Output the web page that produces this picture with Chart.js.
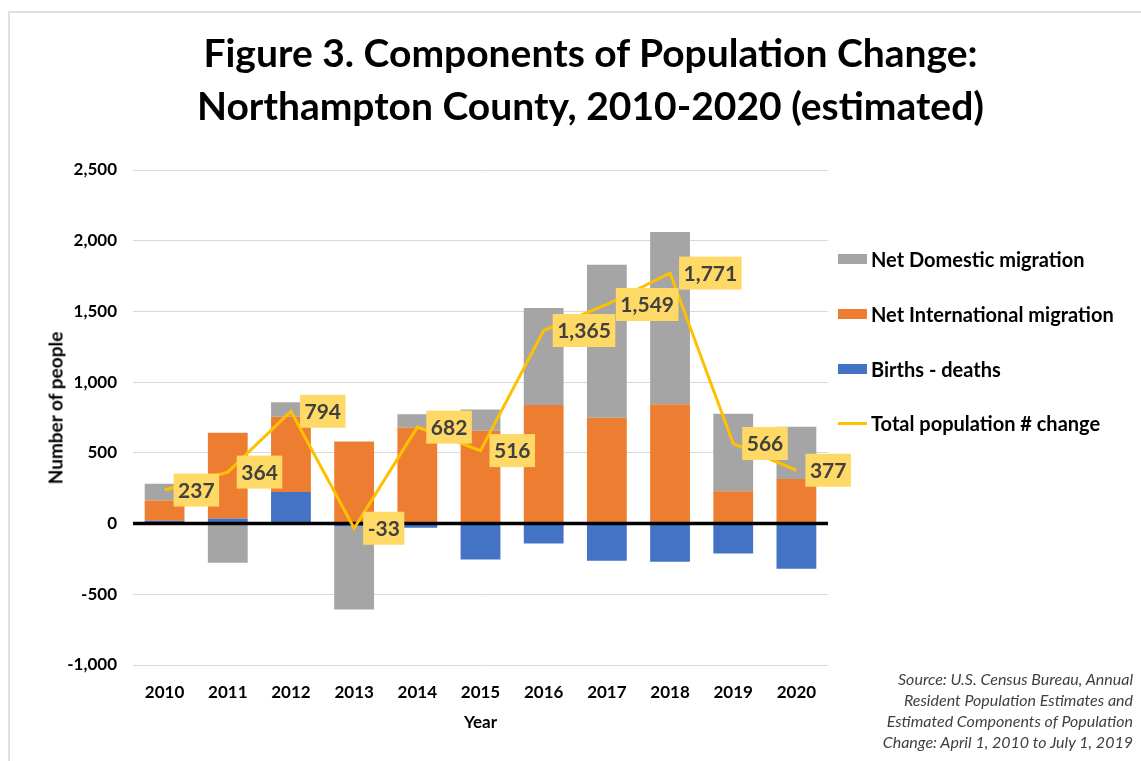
<!DOCTYPE html>
<html>
<head>
<meta charset="utf-8">
<title>Components of Population Change</title>
<script src="https://cdn.jsdelivr.net/npm/chart.js@4.4.1/dist/chart.umd.min.js"></script>
<style>
    body { margin: 0; background: #fff; font-family: Lato, "Open Sans", sans-serif; }
    #wrap { position: relative; width: 1141px; height: 761px; overflow: hidden; }
    #frame { position: absolute; left: 8px; top: 11px; width: 1300px; height: 900px; border-left: 2px solid #e0e0e0; border-top: 2px solid #e0e0e0; }
    #chart { position: absolute; left: 0; top: 0; }
    #title { position: absolute; left: 20px; top: 26px; width: 1141px; text-align: center; font-weight: bold; font-size: 39px; line-height: 53px; color: #000; }
    #legend { position: absolute; left: 838px; top: 232px; }
    .item { height: 54.7px; display: flex; align-items: center; font-weight: bold; font-size: 20px; color: #000; white-space: nowrap; }
    .swatch { width: 29px; height: 10px; margin-right: 4px; }
    .swatch.line { height: 3px; }
    #ytitle { position: absolute; left: 55px; top: 408px; transform: translate(-50%, -50%) rotate(-90deg); font-weight: bold; font-size: 19px; color: #000; white-space: nowrap; }
    #source { position: absolute; right: 8px; top: 668px; text-align: right; font-style: italic; font-size: 16px; line-height: 21px; color: #404040; }
</style>
</head>
<body>
<div id="wrap">
    <div id="frame"></div>
    <canvas id="chart" width="1141" height="761"></canvas>
    <div id="title">Figure 3. Components of Population Change:<br>Northampton County, 2010-2020 (estimated)</div>
    <div id="ytitle">Number of people</div>
    <div id="legend"></div>
    <div id="source">Source: U.S. Census Bureau, Annual<br>Resident Population Estimates and<br>Estimated Components of Population<br>Change: April 1, 2010 to July 1, 2019</div>
</div>
<script>
// valores
const years = ['2010', '2011', '2012', '2013', '2014', '2015', '2016', '2017', '2018', '2019', '2020'];
const birthsMinusDeaths = [20, 35, 223, -20, -30, -254, -141, -263, -270, -212, -319];
const internationalMigration = [143, 608, 533, 580, 679, 656, 839, 749, 844, 228, 315];
const domesticMigration = [118, -277, 101, -587, 94, 150, 686, 1081, 1217, 548, 369];
const totalChange = [237, 364, 794, -33, 682, 516, 1365, 1549, 1771, 566, 377];
const yTicks = [-1000, -500, 0, 500, 1000, 1500, 2000, 2500];

const axisFont = { family: 'Lato', size: 17, weight: 'bold' };

// linha preta no zero, por cima das barras e por baixo da linha amarela
const zeroLinePlugin = {
    id: 'zeroLine',
    beforeDatasetDraw(chart, args) {
        if (args.meta.type !== 'line') return;
        const { ctx, chartArea, scales } = chart;
        const y = scales.y.getPixelForValue(0);
        ctx.save();
        ctx.strokeStyle = '#000';
        ctx.lineWidth = 3.5;
        ctx.beginPath();
        ctx.moveTo(chartArea.left, y);
        ctx.lineTo(chartArea.right, y);
        ctx.stroke();
        ctx.restore();
    }
};

// caixas amarelas com os totais
const labelBoxPlugin = {
    id: 'labelBoxes',
    afterDatasetsDraw(chart) {
        const { ctx } = chart;
        chart.data.datasets.forEach((ds, i) => {
            if (ds.type !== 'line') return;
            const meta = chart.getDatasetMeta(i);
            ctx.save();
            ctx.font = 'bold 21px Lato';
            ctx.textBaseline = 'middle';
            ctx.textAlign = 'left';
            meta.data.forEach((pt, j) => {
                const text = ds.data[j].toLocaleString('en-US');
                const w = ctx.measureText(text).width + 9;
                const x = pt.x + 9;
                ctx.fillStyle = '#FFD966';
                ctx.fillRect(x, pt.y - 16.5, w, 33);
                ctx.fillStyle = '#404040';
                ctx.fillText(text, x + 4.5, pt.y + 1);
            });
            ctx.restore();
        });
    }
};

const chart = new Chart(document.getElementById('chart'), {
    type: 'bar',
    data: {
        labels: years,
        datasets: [
            {
                type: 'line',
                label: 'Total population # change',
                data: totalChange,
                borderColor: '#FFC000',
                backgroundColor: '#FFC000',
                borderWidth: 3,
                pointRadius: 0,
                tension: 0,
                stack: 'total',
                order: 0
            },
            { label: 'Births - deaths', data: birthsMinusDeaths, backgroundColor: '#4472C4', stack: 'parts', order: 1 },
            { label: 'Net International migration', data: internationalMigration, backgroundColor: '#ED7D31', stack: 'parts', order: 1 },
            { label: 'Net Domestic migration', data: domesticMigration, backgroundColor: '#A5A5A5', stack: 'parts', order: 1 }
        ]
    },
    options: {
        responsive: false,
        animation: false,
        layout: { padding: { top: 170, right: 313, bottom: 0, left: 0 } },
        datasets: { bar: { barPercentage: 0.63, categoryPercentage: 1 } },
        plugins: {
            legend: { display: false },
            tooltip: { enabled: false }
        },
        scales: {
            x: {
                stacked: true,
                grid: { display: false },
                border: { display: false },
                ticks: { color: '#000', font: axisFont, padding: 9 },
                title: { display: true, text: 'Year', color: '#000', font: axisFont, padding: { top: 0, bottom: 28 } },
                afterFit(scale) { scale.height = 96; }
            },
            y: {
                stacked: true,
                min: yTicks[0],
                max: yTicks[yTicks.length - 1],
                afterBuildTicks(scale) { scale.ticks = yTicks.map(v => ({ value: v })); },
                ticks: {
                    color: '#000',
                    font: axisFont,
                    padding: 16,
                    callback: v => v.toLocaleString('en-US')
                },
                grid: { color: '#D9D9D9', lineWidth: 1, drawTicks: false },
                border: { display: false },
                afterFit(scale) { scale.width = 133; }
            }
        }
    },
    plugins: [zeroLinePlugin, labelBoxPlugin]
});

// legenda em html, na mesma ordem da figura
const legendElem = document.getElementById('legend');
[3, 2, 1, 0].forEach(i => {
    const ds = chart.data.datasets[i];
    const item = document.createElement('div');
    item.className = 'item';
    const sw = document.createElement('span');
    sw.className = ds.type === 'line' ? 'swatch line' : 'swatch';
    sw.style.background = ds.type === 'line' ? ds.borderColor : ds.backgroundColor;
    item.appendChild(sw);
    item.appendChild(document.createTextNode(ds.label));
    legendElem.appendChild(item);
});
</script>
</body>
</html>
